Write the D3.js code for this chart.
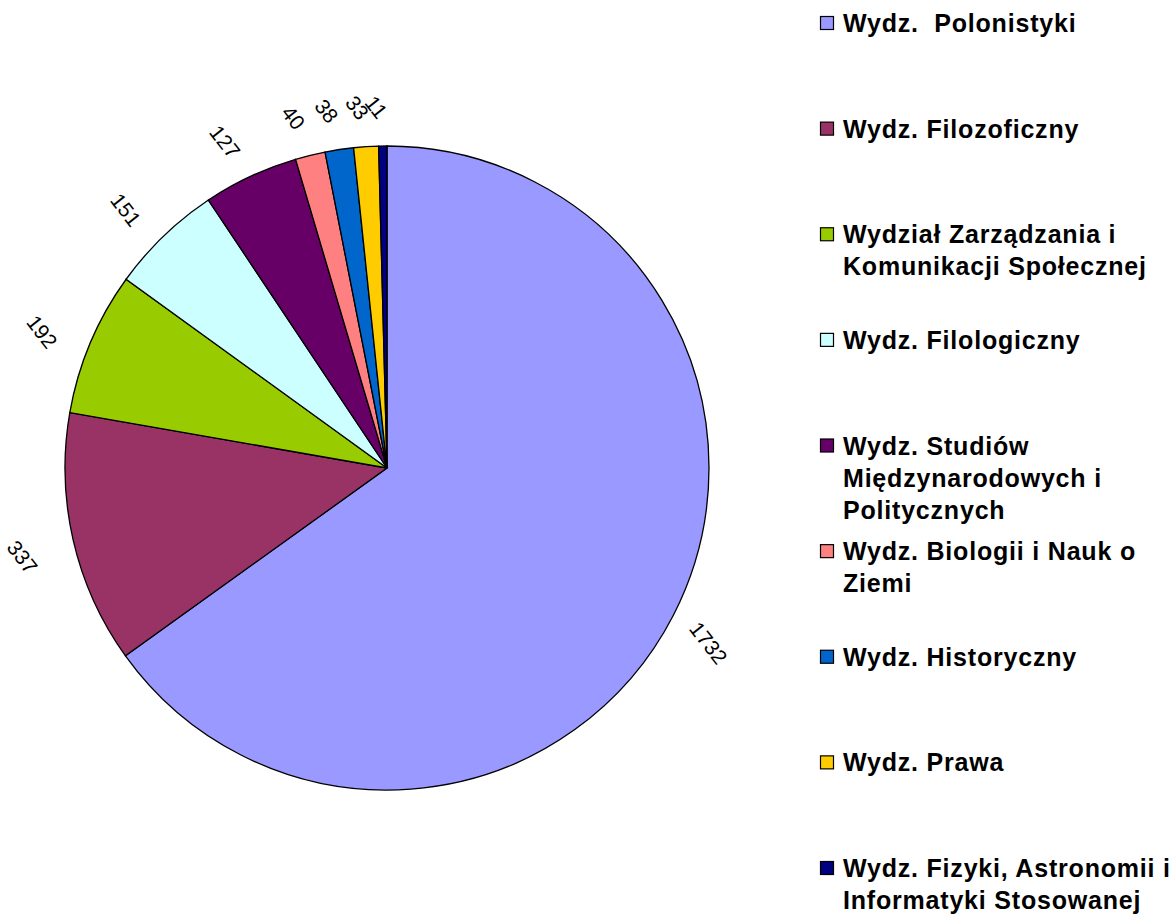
<!DOCTYPE html>
<html>
<head>
<meta charset="utf-8">
<script src="https://cdn.jsdelivr.net/npm/d3@7"></script>
<style>
  body { margin: 0; background: #fff; }
  svg { display: block; }
  text { white-space: pre; }
</style>
</head>
<body>
<svg id="canvas"></svg>
<script>
let departments = [
	'Wydz.  Polonistyki',
	'Wydz. Filozoficzny',
	'Wydział Zarządzania i\nKomunikacji Społecznej',
	'Wydz. Filologiczny',
	'Wydz. Studiów\nMiędzynarodowych i\nPolitycznych',
	'Wydz. Biologii i Nauk o\nZiemi',
	'Wydz. Historyczny',
	'Wydz. Prawa',
	'Wydz. Fizyki, Astronomii i\nInformatyki Stosowanej'
];
let counts = [1732, 337, 192, 151, 127, 40, 38, 33, 11];
let colors = ['#9999ff', '#993366', '#99cc00', '#ccffff', '#660066', '#ff8080', '#0066cc', '#ffcc00', '#000080'];

let width = 1172;
let height = 919;
let cx = 387;
let cy = 468;
let radius = 322;

let canvas = d3.select('#canvas');
canvas.attr('width', width).attr('height', height);

let data = counts.map((c, i) => ({ name: departments[i], value: c, color: colors[i] }));

let pie = d3.pie().sort(null).value(d => d.value);
let arc = d3.arc().innerRadius(0).outerRadius(radius);
let labelArc = d3.arc().innerRadius(radius + 46).outerRadius(radius + 46);

let drawPie = () => {
	let g = canvas.append('g').attr('transform', `translate(${cx}, ${cy})`);

	g.selectAll('path')
		.data(pie(data))
		.enter()
		.append('path')
		.attr('d', arc)
		.attr('fill', d => d.data.color)
		.attr('stroke', '#000')
		.attr('stroke-width', 1.3);

	// value labels, rotated like in the original
	g.selectAll('text')
		.data(pie(data))
		.enter()
		.append('text')
		.attr('transform', d => {
			let [x, y] = labelArc.centroid(d);
			return `translate(${x - 6}, ${y + 7}) rotate(52)`;
		})
		.attr('text-anchor', 'middle')
		.attr('dy', '0.35em')
		.attr('font-family', 'Liberation Sans, Arial, sans-serif')
		.attr('font-size', 21)
		.attr('fill', '#000')
		.text(d => d.data.value);
};

let drawLegend = () => {
	let yScale = d3.scaleLinear().domain([0, data.length - 1]).range([23, 868]);
	let lineHeight = 32;

	let items = canvas.append('g')
		.selectAll('g')
		.data(data)
		.enter()
		.append('g')
		.attr('transform', (d, i) => `translate(820, ${yScale(i)})`);

	items.append('rect')
		.attr('x', 0.5)
		.attr('y', -6.5)
		.attr('width', 13)
		.attr('height', 13)
		.attr('fill', d => d.color)
		.attr('stroke', '#000')
		.attr('stroke-width', 1.2);

	let text = items.append('text')
		.attr('x', 23)
		.attr('font-family', 'Liberation Sans, Arial, sans-serif')
		.attr('font-weight', 'bold')
		.attr('font-size', 25)
		.attr('letter-spacing', 0.8)
		.attr('fill', '#000');

	text.selectAll('tspan')
		.data(d => d.name.split('\n'))
		.enter()
		.append('tspan')
		.attr('x', 23)
		.attr('y', (d, i) => i * lineHeight)
		.attr('dy', '0.36em')
		.text(d => d);
};

drawPie();
drawLegend();
</script>
</body>
</html>
